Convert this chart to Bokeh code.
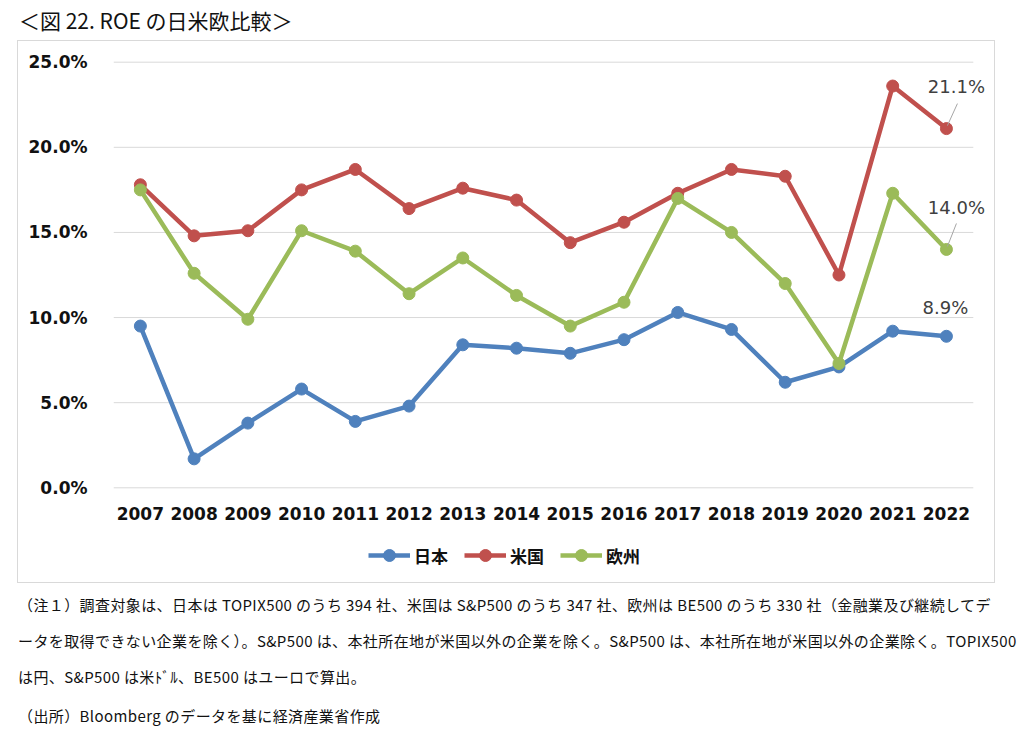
from bokeh.plotting import figure
from bokeh.models import (FixedTicker, PrintfTickFormatter, Legend, LegendItem,
                          ColumnDataSource, Div)
from bokeh.layouts import column
from bokeh.core.properties import value
from bokeh.embed import file_html
from bokeh.resources import INLINE

years = [2007, 2008, 2009, 2010, 2011, 2012, 2013, 2014, 2015, 2016,
         2017, 2018, 2019, 2020, 2021, 2022]
japan = [9.5, 1.7, 3.8, 5.8, 3.9, 4.8, 8.4, 8.2, 7.9, 8.7,
         10.3, 9.3, 6.2, 7.1, 9.2, 8.9]
usa = [17.8, 14.8, 15.1, 17.5, 18.7, 16.4, 17.6, 16.9, 14.4, 15.6,
       17.3, 18.7, 18.3, 12.5, 23.6, 21.1]
europe = [17.5, 12.6, 9.9, 15.1, 13.9, 11.4, 13.5, 11.3, 9.5, 10.9,
          17.0, 15.0, 12.0, 7.3, 17.3, 14.0]
series_names = ["日本", "米国", "欧州"]
colors = ["#4F81BD", "#C0504D", "#9BBB59"]
y_ticks = [0, 5, 10, 15, 20, 25]

title_text = "＜図 22. ROE の日米欧比較＞"
notes = [
    "（注１）調査対象は、日本は TOPIX500 のうち 394 社、米国は S&amp;P500 のうち 347 社、欧州は BE500 のうち 330 社（金融業及び継続してデ",
    "ータを取得できない企業を除く）。S&amp;P500 は、本社所在地が米国以外の企業を除く。S&amp;P500 は、本社所在地が米国以外の企業除く。TOPIX500",
    "は円、S&amp;P500 は米ﾄﾞﾙ、BE500 はユーロで算出。",
    "（出所）Bloomberg のデータを基に経済産業省作成",
]

# ---- main chart ----
W, H = 976, 490
BL, BR, BT, BB = 95, 4, 19, 42
x0, x1 = years[0] - 0.5, years[-1] + 0.82
y0, y1 = -0.1, 25.1
p = figure(width=W, height=H, output_backend="svg", toolbar_location=None,
           x_range=(x0, x1), y_range=(y0, y1),
           min_border_left=BL, min_border_right=BR, min_border_top=BT,
           min_border_bottom=BB)
p.outline_line_color = None
p.background_fill_color = "white"
p.border_fill_color = "white"

frame_w, frame_h = W - BL - BR, H - BT - BB
px_year = frame_w / (x1 - x0)
px_pct = frame_h / (y1 - y0)

p.xgrid.grid_line_color = None
p.ygrid.grid_line_color = None
# horizontal gridlines spanning the category area only
p.segment(x0=[years[0] - 0.5] * len(y_ticks), y0=y_ticks,
          x1=[years[-1] + 0.5] * len(y_ticks), y1=y_ticks,
          line_color="#d9d9d9", line_width=1)

p.yaxis.ticker = FixedTicker(ticks=y_ticks)
p.yaxis.formatter = PrintfTickFormatter(format="%.1f%%")
p.xaxis.ticker = FixedTicker(ticks=years)
for ax in (p.xaxis, p.yaxis):
    ax.axis_line_color = None
    ax.major_tick_line_color = None
    ax.minor_tick_line_color = None
    ax.major_label_text_font = "DejaVu Sans"
    ax.major_label_text_font_style = "bold"
    ax.major_label_text_font_size = "17px"
    ax.major_label_text_color = "#111111"
p.yaxis.major_label_standoff = 20
p.xaxis.major_label_standoff = 11

for vals, c in zip([japan, usa, europe], colors):
    src = ColumnDataSource(dict(x=years, y=vals))
    p.line("x", "y", source=src, line_color=c, line_width=4.5)
    p.scatter("x", "y", source=src, size=12, fill_color=c, line_color=c)

# data labels on last points
last_x = [years[-1]] * 3
last_y = [usa[-1], europe[-1], japan[-1]]
lab_src = ColumnDataSource(dict(
    x=last_x, y=last_y,
    t=[f"{v:.1f}%" for v in last_y],
    dx=[10, 10, -1], dy=[-42, -42, -29]))
p.text("x", "y", text="t", source=lab_src, x_offset="dx", y_offset="dy",
       text_align="center", text_baseline="middle",
       text_font=value("DejaVu Sans"), text_font_size="18px",
       text_color="#404040")

# leader lines for the two upper labels
lead_x0 = [years[-1] + 1 / px_year] * 2
lead_y0 = [usa[-1] + 3 / px_pct, europe[-1] + 3 / px_pct]
lead_x1 = [years[-1] + 11 / px_year, years[-1] + 10 / px_year]
lead_y1 = [usa[-1] + 25 / px_pct, europe[-1] + 26 / px_pct]
p.segment(lead_x0, lead_y0, lead_x1, lead_y1, line_color="#a6a6a6", line_width=1)

# ---- legend strip (inside the same bordered box) ----
pl = figure(width=W, height=51, output_backend="svg", toolbar_location=None,
            x_axis_type=None, y_axis_type=None, x_range=(0, 1), y_range=(0, 1),
            min_border=0)
pl.outline_line_color = None
pl.xgrid.grid_line_color = None
pl.ygrid.grid_line_color = None
items = []
nan = float("nan")
for name, c in zip(series_names, colors):
    proxy = ColumnDataSource(dict(x=[nan], y=[nan]))
    ln = pl.line("x", "y", source=proxy, line_color=c, line_width=4.5)
    sc = pl.scatter("x", "y", source=proxy, size=12, fill_color=c, line_color=c)
    items.append(LegendItem(label=name, renderers=[ln, sc]))
legend = Legend(items=items, orientation="horizontal", location=(255, 12),
                glyph_width=42, glyph_height=30, label_height=30,
                label_standoff=4, spacing=16, padding=0, margin=0,
                border_line_alpha=0, background_fill_alpha=0,
                label_text_font="Noto Sans CJK JP", label_text_font_style="bold",
                label_text_font_size="17px", label_text_color="#111111")
pl.add_layout(legend, "center")

box = column(p, pl, spacing=0, margin=(0, 0, 0, 17),
             styles={"border": "1px solid #d9d9d9"})

# ---- title and notes ----
title_div = Div(
    text=f'<div style="font-family:\'Noto Sans CJK JP\';font-size:21px;color:#111;'
         f'line-height:40px;height:40px;padding-left:19px;white-space:nowrap;">{title_text}</div>',
    width=1000, height=40, margin=(0, 0, 0, 0))

line_heights = [36, 36, 36, 39]
note_html = "".join(
    f'<div style="height:{lh}px;line-height:{36 if i < 3 else 42}px;white-space:nowrap;">{t}</div>'
    for i, (t, lh) in enumerate(zip(notes, line_heights)))
notes_div = Div(
    text=f'<div style="font-family:\'Noto Sans CJK JP\';font-size:15px;letter-spacing:0.4px;color:#111;'
         f'padding-left:18px;padding-top:4px;">{note_html}</div>',
    width=1010, height=155, margin=(0, 0, 0, 0))

layout = column(title_div, box, notes_div, spacing=0)
open("out.html", "w").write(file_html(layout, INLINE))
